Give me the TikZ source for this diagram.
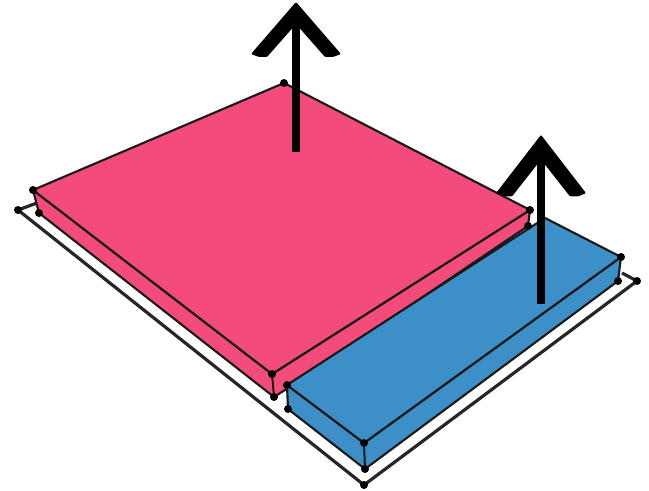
\documentclass[tikz,border=0pt]{standalone}
\usetikzlibrary{arrows.meta}
\definecolor{rose}{RGB}{243,76,122}
\definecolor{sky}{RGB}{60,143,199}
\tikzset{
  face/.style={fill=#1,draw=black!90,line width=1.6pt,line join=round},
  edge/.style={draw=black!90,line width=1.5pt},
  rim/.style={draw=black!85,line width=2.4pt,line join=round},
  lift/.style={draw=black,line width=6.4pt},
  vertex/.style={circle,fill=black,inner sep=0pt,minimum size=6pt},
  pics/barb/.style={code={
    \fill[black,rounded corners=0.8pt] (0,-1) -- (-45,51) -- (-37,54) -- (-29,54) -- (0,21) -- (29,54) -- (37,54) -- (45,51) -- cycle;
  }},
}
\begin{document}
\begin{tikzpicture}[x=0.75pt,y=-0.75pt]
    \useasboundingbox (0,0) rectangle (649,491);
    % plate
    \coordinate (bl) at (18,210);
    \coordinate (bf) at (364,485);
    \coordinate (br) at (637,281);
    \coordinate (bk1) at (37,203);
    \coordinate (bk2) at (622,273);
    % pink box
    \coordinate (pl) at (33,190);
    \coordinate (pb) at (284,83);
    \coordinate (pr) at (530,210);
    \coordinate (pf) at (272,374);
    \coordinate (pl2) at (39,213);
    \coordinate (pf2) at (274,397);
    \coordinate (pr2) at (528,226);
    \coordinate (pe) at (285,390);
    % blue box
    \coordinate (ql) at (287,385);
    \coordinate (qb) at (545,218);
    \coordinate (qr) at (621,257);
    \coordinate (qf) at (364,443);
    \coordinate (ql2) at (288,409);
    \coordinate (qf2) at (365,469);
    \coordinate (qr2) at (618,281);
    \draw[rim] (bk1) -- (bl) -- (bf) -- (br) -- (bk2);
    \draw[face=rose] (pl) -- (pl2) -- (pf2) -- (pe) -- (pr2) -- (pr) -- (pf) -- cycle;
    \draw[face=rose] (pl) -- (pb) -- (pr) -- (pf) -- cycle;
    \draw[face=sky] (ql) -- (ql2) -- (qf2) -- (qr2) -- (qr) -- (qf) -- cycle;
    \draw[face=sky] (ql) -- (qb) -- (qr) -- (qf) -- cycle;
    \draw[edge] (pf) -- (pf2);
    \draw[edge] (qf) -- (qf2);
    \foreach \v in {bl,bf,br,pl,pb,pr,pf,pl2,pf2,pr2,ql,qr,qf,ql2,qf2,qr2}
      \node[vertex] (n\v) at (\v) {};
    % arrows
    \coordinate (a1) at (296,152);
    \coordinate (a2) at (296,10);
    \coordinate (c1) at (541,304);
    \coordinate (c2) at (541,145);
    \draw[lift] (a1) -- (a2);
    \draw[lift] (c1) -- (c2);
    \pic at (296,3) {barb};
    \pic[yscale=1.12] at (541,136) {barb};
  \end{tikzpicture}
\end{document}
